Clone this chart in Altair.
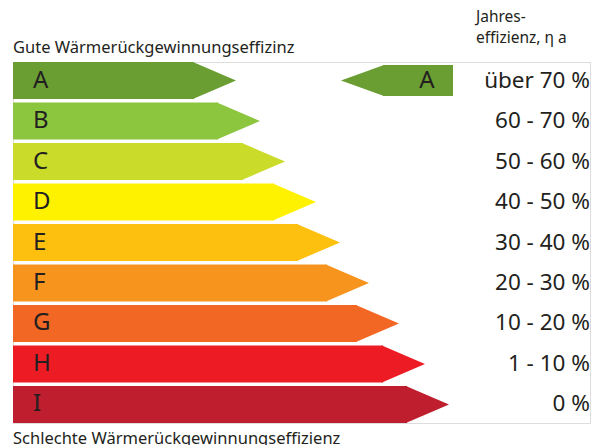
import altair as alt
import pandas as pd

classes = ["A", "B", "C", "D", "E", "F", "G", "H", "I"]
bar_ends = [181, 205, 230, 261, 285, 314, 344, 370, 394]
ranges = ["über 70 %", "60 - 70 %", "50 - 60 %", "40 - 50 %", "30 - 40 %",
          "20 - 30 %", "10 - 20 %", "1 - 10 %", "0 %"]
colors = ["#6a9e33", "#8cc63f", "#cbdb2a", "#fff200", "#fdc00f",
          "#f7941e", "#f26724", "#ed1c24", "#be1e2d"]

current_class = "A"
indicator_start = 370
indicator_end = 440

top_text = "Gute Wärmerückgewinnungseffizinz"
bottom_text = "Schlechte Wärmerückgewinnungseffizienz"
header_lines = ["Jahres-", "effizienz, η a"]

FONT = "Noto Sans"
TXT = "#231f20"

df = pd.DataFrame({"cls": classes, "start": [0] * len(classes), "end": bar_ends, "range": ranges})
ind = pd.DataFrame({"cls": [current_class], "start": [indicator_start], "end": [indicator_end]})

xs = alt.Scale(domain=[0, 577], nice=False, zero=False)
ys = alt.Scale(domain=classes, paddingInner=0.0864, paddingOuter=0)
cs = alt.Scale(domain=classes, range=colors)

X = lambda f: alt.X(f, type="quantitative", scale=xs, axis=None)
Y = alt.Y("cls:N", scale=ys, axis=None)

base = alt.Chart(df)

bars = base.mark_bar().encode(
    x=X("start"), x2="end", y=Y,
    color=alt.Color("cls:N", scale=cs, legend=None),
)

tips = base.mark_point(
    shape="M-0.06,-1L2.27,0L-0.06,1Z", size=1369, filled=True, opacity=1, strokeWidth=0
).encode(
    x=X("end"), y=Y,
    color=alt.Color("cls:N", scale=cs, legend=None),
)

letters = base.mark_text(align="left", baseline="middle", font=FONT, fontSize=24, color=TXT).encode(
    x=alt.value(20), y=Y, text="cls:N"
)

range_text = base.mark_text(align="right", baseline="middle", font=FONT, fontSize=22.5, color=TXT).encode(
    x=alt.value(577), y=Y, text="range:N"
)

ib = alt.Chart(ind)
ind_bar = ib.mark_bar(size=31).encode(
    x=X("start"), x2="end", y=Y,
    color=alt.Color("cls:N", scale=cs, legend=None),
)
ind_tip = ib.mark_point(
    shape="M0.06,-1L-2.71,0L0.06,1Z", size=961, filled=True, opacity=1, strokeWidth=0
).encode(
    x=X("start"), y=Y,
    color=alt.Color("cls:N", scale=cs, legend=None),
)
ind_text = ib.mark_text(align="center", baseline="middle", font=FONT, fontSize=24, color=TXT).encode(
    x=alt.value(414), y=Y, text="cls:N"
)

labels = pd.DataFrame({
    "t": [top_text, bottom_text, header_lines[0], header_lines[1]],
    "px": [0, 0, 463, 463],
    "py": [-9, 382, -40, -19],
    "fs": [16.5, 16.5, 15.5, 15.5],
})
text_layers = []
for i, row in labels.iterrows():
    text_layers.append(
        alt.Chart(labels.iloc[[i]]).mark_text(
            align="left", baseline="alphabetic", font=FONT, color=TXT, fontSize=float(row["fs"])
        ).encode(
            x=alt.X("px:Q", scale=xs, axis=None),
            y=alt.value(float(row["py"])),
            text="t:N",
        )
    )

chart = alt.layer(
    bars, tips, letters, range_text, ind_bar, ind_tip, ind_text, *text_layers
).properties(
    width=577, height=361,
    autosize=alt.AutoSizeParams(type="none"),
    padding={"left": 5, "top": 54, "right": 2, "bottom": 30},
).configure_view(stroke=None).configure(background="white")

chart.save("out.html", embed_options={"renderer": "svg", "actions": False})
